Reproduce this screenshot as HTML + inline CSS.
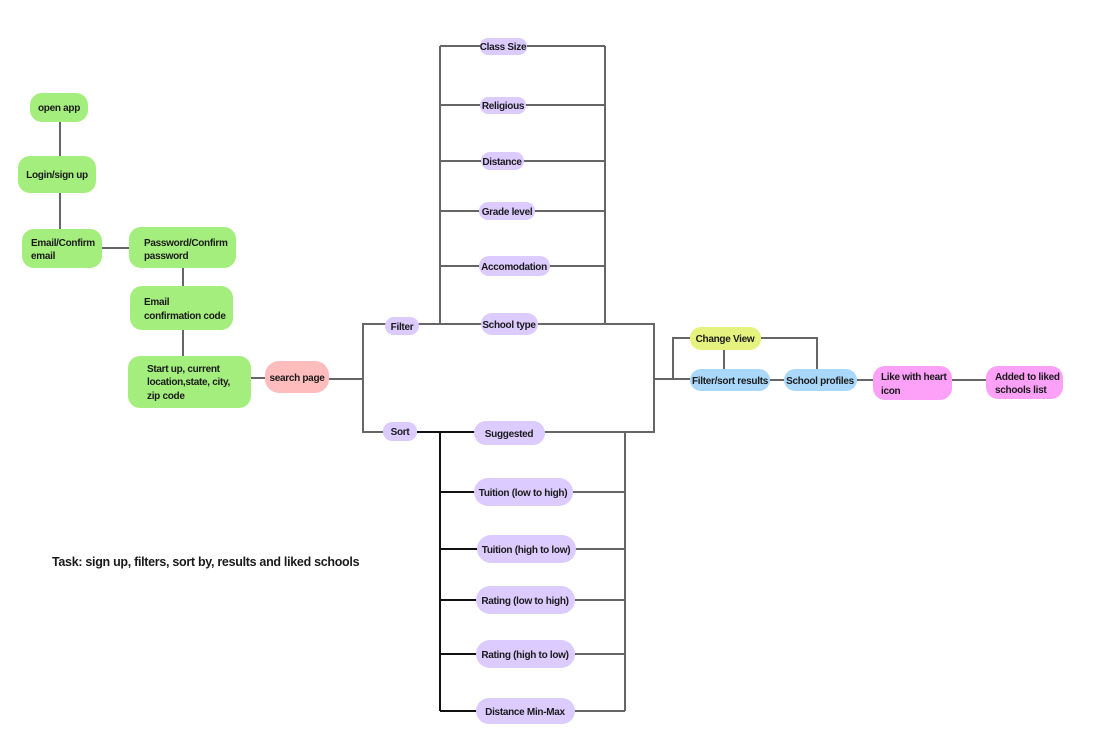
<!DOCTYPE html>
<html><head><meta charset="utf-8"><style>
html,body{margin:0;padding:0;background:#fff;width:1100px;height:738px;overflow:hidden}
svg text{font-family:"Liberation Sans",sans-serif;font-weight:bold;font-size:10px;fill:#1a1a1a;letter-spacing:-0.3px}
</style></head><body>
<svg width="1100" height="738" viewBox="0 0 1100 738" xmlns="http://www.w3.org/2000/svg">
<g stroke="#666" stroke-width="2" fill="none">
<line x1="60" y1="120" x2="60" y2="160"/>
<line x1="60" y1="192" x2="60" y2="232"/>
<line x1="100" y1="248" x2="132" y2="248"/>
<line x1="183" y1="266" x2="183" y2="290"/>
<line x1="183" y1="328" x2="183" y2="358"/>
<line x1="250" y1="378" x2="268" y2="378"/>
<line x1="328" y1="379" x2="363" y2="379"/>
<polyline points="363,379 363,324 654,324 654,432 363,432 363,379"/>
<line x1="654" y1="379" x2="690" y2="379"/>
<polyline points="673,379 673,338 692,338"/>
<polyline points="758,338 817,338 817,372"/>
<line x1="724" y1="348" x2="724" y2="372"/>
<line x1="768" y1="380" x2="786" y2="380"/>
<line x1="855" y1="380" x2="876" y2="380"/>
<line x1="950" y1="380" x2="988" y2="380"/>
<line x1="440" y1="46" x2="440" y2="324"/>
<line x1="605" y1="46" x2="605" y2="324"/>
<line x1="440" y1="46" x2="605" y2="46"/>
<line x1="440" y1="105" x2="605" y2="105"/>
<line x1="440" y1="161" x2="605" y2="161"/>
<line x1="440" y1="211" x2="605" y2="211"/>
<line x1="440" y1="266" x2="605" y2="266"/>
<line x1="625" y1="432" x2="625" y2="711"/>
<line x1="540" y1="492" x2="625" y2="492"/>
<line x1="540" y1="549" x2="625" y2="549"/>
<line x1="540" y1="600" x2="625" y2="600"/>
<line x1="540" y1="654" x2="625" y2="654"/>
<line x1="540" y1="711" x2="625" y2="711"/>
</g>
<g stroke="#111" stroke-width="2" fill="none">
<line x1="416" y1="432" x2="478" y2="432"/>
<line x1="440" y1="432" x2="440" y2="711"/>
<line x1="440" y1="492" x2="478" y2="492"/>
<line x1="440" y1="549" x2="478" y2="549"/>
<line x1="440" y1="600" x2="478" y2="600"/>
<line x1="440" y1="654" x2="478" y2="654"/>
<line x1="440" y1="711" x2="478" y2="711"/>
</g>
<g fill="#a4ee7d">
<rect x="30" y="93" width="58" height="29" rx="12"/>
<rect x="18" y="156" width="78" height="37" rx="12"/>
<rect x="22" y="229" width="80" height="39" rx="12"/>
<rect x="129" y="227" width="107" height="41" rx="12"/>
<rect x="130" y="286" width="103" height="44" rx="12"/>
<rect x="128" y="356" width="123" height="52" rx="12"/>
</g>
<rect x="265" y="361" width="64" height="32" rx="14" fill="#ffbcbc"/>
<g fill="#dccbff">
<rect x="385" y="317" width="34" height="18" rx="9"/>
<rect x="383" y="422" width="34" height="19" rx="9"/>
<rect x="481" y="313" width="57" height="22" rx="11"/>
<rect x="474" y="421" width="71" height="24" rx="12"/>
<rect x="480" y="38" width="47" height="17" rx="8"/>
<rect x="480" y="97" width="46" height="17" rx="8"/>
<rect x="481" y="152" width="43" height="18" rx="9"/>
<rect x="479" y="202" width="56" height="18" rx="9"/>
<rect x="479" y="256" width="71" height="20" rx="10"/>
<rect x="474" y="478" width="99" height="28" rx="14"/>
<rect x="477" y="535" width="99" height="28" rx="14"/>
<rect x="476" y="586" width="99" height="28" rx="14"/>
<rect x="476" y="640" width="99" height="28" rx="14"/>
<rect x="476" y="698" width="99" height="26" rx="13"/>
</g>
<rect x="690" y="327" width="71" height="23" rx="11" fill="#e5f27d"/>
<rect x="690" y="369" width="80" height="22" rx="11" fill="#aad8fb"/>
<rect x="784" y="369" width="73" height="22" rx="11" fill="#aad8fb"/>
<rect x="873" y="366" width="79" height="34" rx="12" fill="#fca0f8"/>
<rect x="986" y="366" width="77" height="33" rx="12" fill="#fca0f8"/>
<g text-anchor="middle">
<text x="59" y="111">open app</text>
<text x="57" y="178">Login/sign up</text>
<text x="297" y="381">search page</text>
<text x="402" y="330">Filter</text>
<text x="400" y="435">Sort</text>
<text x="509" y="328">School type</text>
<text x="509" y="437">Suggested</text>
<text x="503" y="50">Class Size</text>
<text x="503" y="109">Religious</text>
<text x="502" y="165">Distance</text>
<text x="507" y="215">Grade level</text>
<text x="514" y="270">Accomodation</text>
<text x="523" y="496">Tuition (low to high)</text>
<text x="526" y="553">Tuition (high to low)</text>
<text x="525" y="604">Rating (low to high)</text>
<text x="525" y="658">Rating (high to low)</text>
<text x="525" y="715">Distance Min-Max</text>
<text x="725" y="342">Change View</text>
<text x="730" y="384">Filter/sort results</text>
<text x="820" y="384">School profiles</text>
</g>
<text x="31" y="246">Email/Confirm</text>
<text x="31" y="259">email</text>
<text x="144" y="246">Password/Confirm</text>
<text x="144" y="259">password</text>
<text x="144" y="305">Email</text>
<text x="144" y="319">confirmation code</text>
<text x="147" y="372">Start up, current</text>
<text x="147" y="385">location,state, city,</text>
<text x="147" y="399">zip code</text>
<text x="881" y="380">Like with heart</text>
<text x="881" y="394">icon</text>
<text x="995" y="380">Added to liked</text>
<text x="995" y="393">schools list</text>
<text x="52" y="566" style="font-size:12.5px">Task: sign up, filters, sort by, results and liked schools</text>
</svg>
</body></html>
